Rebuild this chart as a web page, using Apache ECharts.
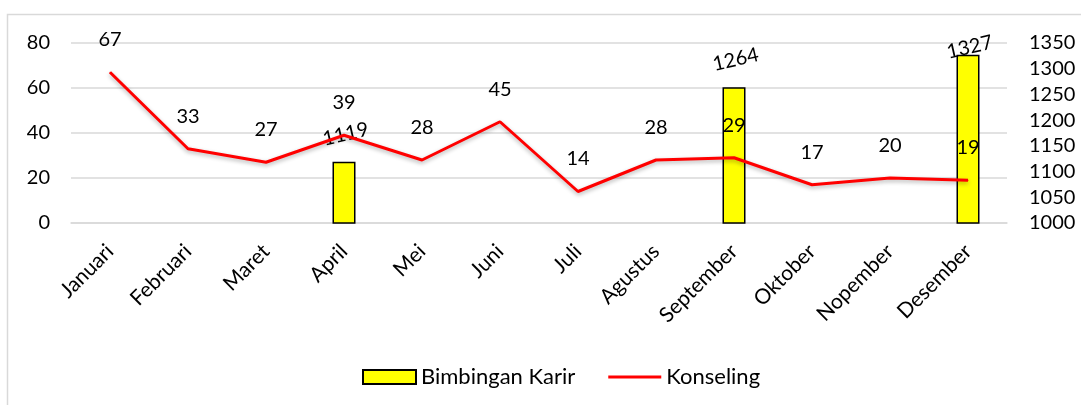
<!DOCTYPE html>
<html>
<head>
<meta charset="utf-8">
<script src="https://cdn.jsdelivr.net/npm/echarts@6/dist/echarts.min.js"></script>
<style>
html,body{margin:0;padding:0;background:#fff;}
#chart{width:1081px;height:405px;}
</style>
</head>
<body>
<div id="chart"></div>
<script>
const categories = ['Januari','Februari','Maret','April','Mei','Juni','Juli','Agustus','September','Oktober','Nopember','Desember'];
const bimbinganKarir = [null,null,null,1119,null,null,null,null,1264,null,null,1327];
const konseling = [67,33,27,39,28,45,14,28,29,17,20,19];
const leftTicks = {min:0,max:80,interval:20};
const rightTicks = {min:1000,max:1350,interval:50};

const FONT = 'Lato';
const chart = echarts.init(document.getElementById('chart'), null, {renderer:'canvas'});

const barData = bimbinganKarir.map((v,i)=>{
  if (v === null) return '-';
  if (i === 11) return {value:v, label:{distance:-3}};
  return v;
});

chart.setOption({
  animation:false,
  textStyle:{fontFamily:FONT,color:'#000'},
  graphic:[{type:'rect',shape:{x:7.5,y:14.5,width:1100,height:500},style:{fill:'none',stroke:'#d9d9d9',lineWidth:1.5},silent:true,z:-1}],
  grid:{left:71,right:74,top:43,bottom:182,containLabel:false},
  legend:{
    top:361,left:357,itemGap:33,itemWidth:53,itemHeight:14,
    textStyle:{fontFamily:FONT,fontSize:22,color:'#000'},
    data:[
      {name:'Bimbingan Karir',icon:'rect'},
      {name:'Konseling',icon:'path://M0,0H53V3H0Z'}
    ]
  },
  xAxis:{
    type:'category',data:categories,
    axisLine:{show:true,lineStyle:{color:'#d9d9d9',width:1.5}},
    axisTick:{show:false},
    axisLabel:{rotate:45,fontSize:21,fontFamily:FONT,color:'#000',margin:25,interval:0}
  },
  yAxis:[
    {type:'value',min:leftTicks.min,max:leftTicks.max,interval:leftTicks.interval,
     axisLine:{show:false},axisTick:{show:false},
     axisLabel:{fontSize:20,fontFamily:FONT,color:'#000',margin:21},
     splitLine:{lineStyle:{color:'#d9d9d9',width:1.5}}},
    {type:'value',min:rightTicks.min,max:rightTicks.max,interval:rightTicks.interval,position:'right',
     axisLine:{show:false},axisTick:{show:false},
     axisLabel:{fontSize:20,fontFamily:FONT,color:'#000',margin:22,formatter:v=>String(v)},
     splitLine:{show:false}}
  ],
  series:[
    {name:'Bimbingan Karir',type:'bar',yAxisIndex:1,data:barData,barWidth:23,
     itemStyle:{color:'#ffff00',borderColor:'#000',borderWidth:1.5},
     label:{show:true,position:'top',rotate:13,distance:17,offset:[4,0],fontSize:20,fontFamily:FONT,color:'#000'}},
    {name:'Konseling',type:'line',yAxisIndex:0,data:konseling,
     symbol:'circle',symbolSize:1,showSymbol:true,
     lineStyle:{color:'#ff0000',width:3,shadowColor:'rgba(0,0,0,0.3)',shadowBlur:4,shadowOffsetY:2},
     itemStyle:{color:'#ff0000'},
     label:{show:true,position:'top',distance:22,fontSize:20,fontFamily:FONT,color:'#000'},
     z:3}
  ]
});
</script>
</body>
</html>
